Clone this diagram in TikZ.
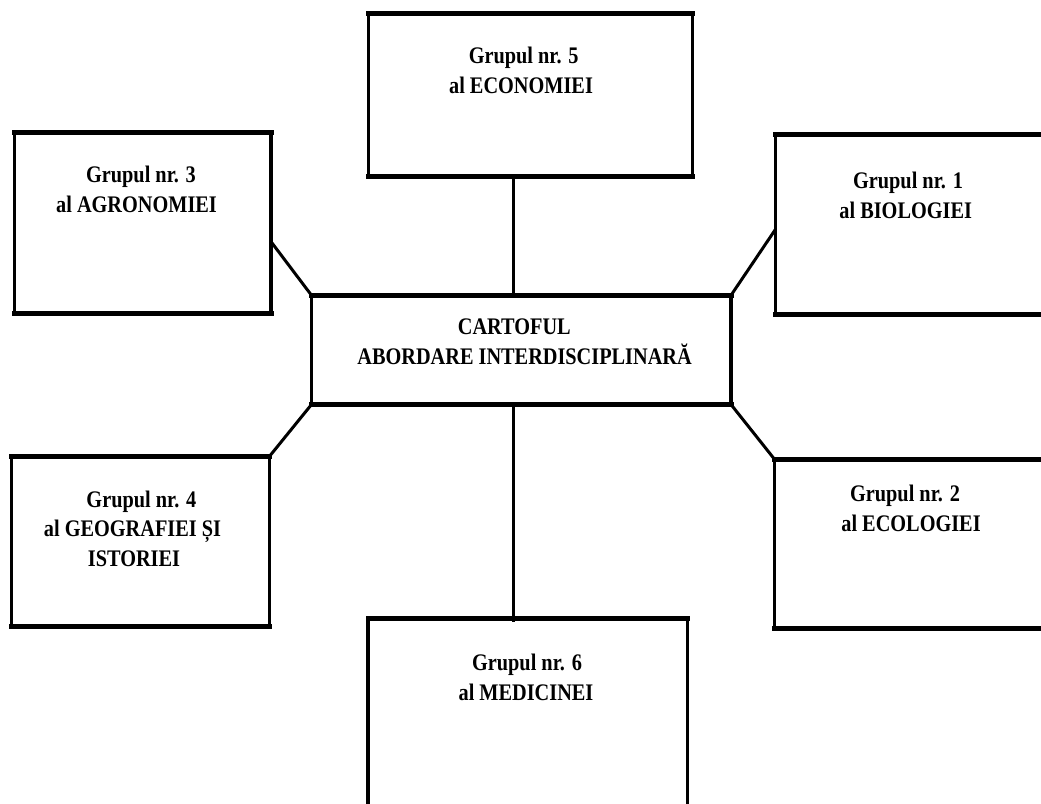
\documentclass[tikz,border=0pt]{standalone}
\usepackage{fontspec}
\setmainfont{Liberation Serif}
\usepackage{graphicx}
\newcommand\vstr[1]{\scalebox{1}[1.17]{#1}}
\begin{document}
\begin{tikzpicture}[x=1pt,y=-1pt,
  box/.style={draw, line width=3.6pt, inner sep=0pt, outer sep=0pt, rectangle},
  hbar/.style={line width=5pt, line cap=rect},
  link/.style={line width=3pt},
  lbl/.style={anchor=base, inner sep=0pt, font=\fontsize{20.3}{24}\selectfont\bfseries}]
\useasboundingbox (0,0) rectangle (1041,803);
\clip (0,0) rectangle (1041,803);
\fill[white] (0,0) rectangle (1041,803);
% boxes
\node[box, minimum width=324pt, minimum height=163.2pt] (b5) at (530.5,94.9) {};
\node[box, minimum width=256.4pt, minimum height=180.7pt] (b3) at (142.8,222.65) {};
\node[box, minimum width=269.5pt, minimum height=180.2pt] (b1) at (910.25,224.4) {};
\node[box, minimum width=419.5pt, minimum height=109.2pt] (c) at (521.25,349.9) {};
\node[box, minimum width=258pt, minimum height=170.4pt] (b4) at (140.5,541.5) {};
\node[box, minimum width=270.7pt, minimum height=169.3pt] (b2) at (909.65,543.65) {};
\node[box, minimum width=319.5pt, minimum height=196.8pt] (b6) at (527.75,716.6) {};
\foreach \n in {b5,b3,b1,c,b4,b2,b6}{
  \draw[hbar] (\n.north west) -- (\n.north east);
  \draw[hbar] (\n.south west) -- (\n.south east);
}
% connectors
\draw[link] ([xshift=-7.6pt]c.north) -- ([xshift=-7.6pt]c.north |- b5.south);
\draw[link] ([xshift=-7.6pt]c.south) -- ([xshift=-7.6pt,yshift=-4pt]c.south |- b6.north);
\draw[link] ([yshift=-19pt]b3.east) -- (c.north west);
\draw[link] ([yshift=-4.9pt]b1.west) -- (c.north east);
\draw[link] (c.south west) -- (b4.north east);
\draw[link] (c.south east) -- (b2.north west);
% texts
\node[lbl] (t5a) at (523.7,63.5) {\vstr{Grupul nr. 5}};
\node[lbl] (t5b) at (521,93.5) {\vstr{al ECONOMIEI}};
\node[lbl] (t3a) at (141,182.7) {\vstr{Grupul nr. 3}};
\node[lbl] (t3b) at (136.5,212.7) {\vstr{al AGRONOMIEI}};
\node[lbl] (t1a) at (908,188.3) {\vstr{Grupul nr. 1}};
\node[lbl] (t1b) at (905.7,218.3) {\vstr{al BIOLOGIEI}};
\node[lbl] (tca) at (514.3,334.3) {\vstr{CARTOFUL}};
\node[lbl] (tcb) at (524.6,364.5) {\vstr{ABORDARE INTERDISCIPLINARĂ}};
\node[lbl] (t4a) at (141.4,507.3) {\vstr{Grupul nr. 4}};
\node[lbl] (t4b) at (132.5,536.7) {\vstr{al GEOGRAFIEI ȘI}};
\node[lbl] (t4c) at (134,566.7) {\vstr{ISTORIEI}};
\node[lbl] (t2a) at (905,501) {\vstr{Grupul nr. 2}};
\node[lbl] (t2b) at (911,531) {\vstr{al ECOLOGIEI}};
\node[lbl] (t6a) at (527,670) {\vstr{Grupul nr. 6}};
\node[lbl] (t6b) at (526,700) {\vstr{al MEDICINEI}};
\end{tikzpicture}
\end{document}
